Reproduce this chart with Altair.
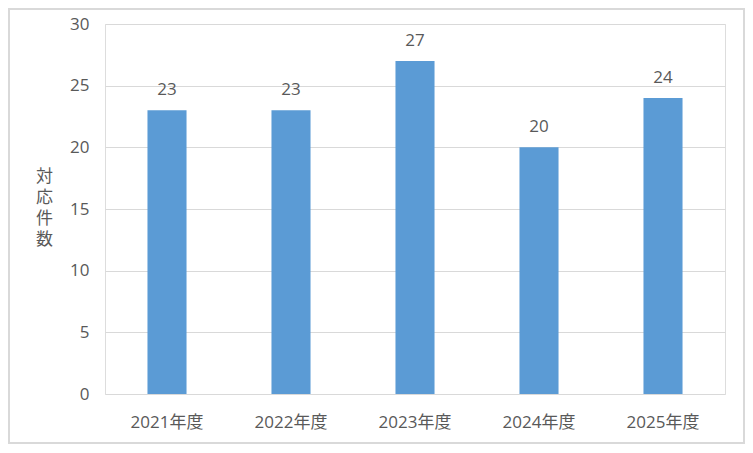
import altair as alt
import pandas as pd

years = ["2021年度", "2022年度", "2023年度", "2024年度", "2025年度"]
counts = [23, 23, 27, 20, 24]
y_title = ["対", "応", "件", "数"]

df = pd.DataFrame({"year": years, "count": counts})
FONT = "Open Sans, Noto Sans CJK JP"
GRAY = "#595959"

base = alt.Chart(df)

bars = base.mark_bar(color="#5B9BD5").encode(
    x=alt.X("year:N", sort=years, title=None,
            scale=alt.Scale(paddingInner=0.685, paddingOuter=0.3425),
            axis=alt.Axis(labelAngle=0, labelPadding=20, ticks=False, domain=False,
                          labelFontSize=17, labelColor=GRAY, labelFont=FONT)),
    y=alt.Y("count:Q", scale=alt.Scale(domain=[0, 30]),
            axis=alt.Axis(values=[0, 5, 10, 15, 20, 25, 30], title=y_title,
                          titleAngle=0, titleX=-61, titleY=144, titleBaseline="top",
                          titleAlign="center", titleLineHeight=21,
                          titleFontSize=17, titleFontWeight="normal", titleColor=GRAY,
                          titleFont=FONT,
                          ticks=False, domain=False, labelPadding=16,
                          labelFontSize=17, labelColor=GRAY, labelFont=FONT,
                          gridColor="#d9d9d9", gridWidth=1)),
)

labels = base.mark_text(dy=-20, fontSize=17, color=GRAY, font=FONT).encode(
    x=alt.X("year:N", sort=years),
    y=alt.Y("count:Q"),
    text=alt.Text("count:Q"),
)

border = base.mark_rect(fill=None, stroke="#d9d9d9", strokeWidth=2).encode(
    x=alt.value(-96), x2=alt.value(639), y=alt.value(-15), y2=alt.value(419)
)

chart = alt.layer(border, bars, labels).properties(
    width=620, height=370,
    autosize=alt.AutoSizeParams(type="none"),
    padding={"left": 97, "top": 16, "right": 20, "bottom": 50},
).configure_view(stroke=None).configure(background="white")

chart.save("out.html", embed_options={"renderer": "svg", "actions": False})
